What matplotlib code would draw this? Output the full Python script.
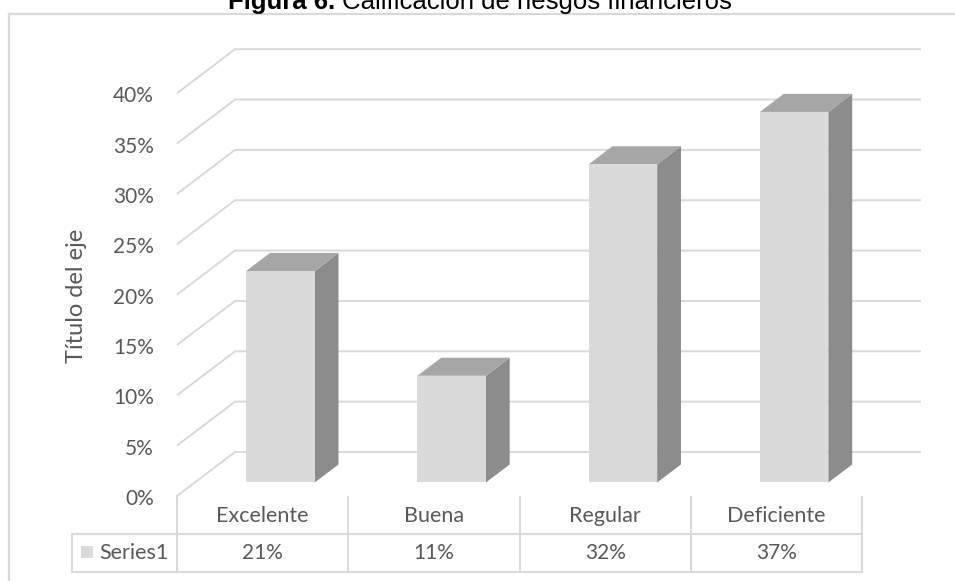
import matplotlib
matplotlib.use("Agg")
import matplotlib.pyplot as plt
from matplotlib.patches import Polygon, Rectangle

# ---------------- data ----------------
categories = ["Excelente", "Buena", "Regular", "Deficiente"]
values = [21.0, 10.6, 31.6, 36.8]          # percent
series_name = "Series1"
y_ticks = [0, 5, 10, 15, 20, 25, 30, 35, 40]
title_bold = "Figura 6."
title_rest = " Calificación de riesgos financieros"
axis_title = "Título del eje"

# ---------------- style ----------------
W, H = 955, 581
DPI = 100
GRID = "#D9D9D9"
TXT = "#595959"
FRONT = "#DADADA"
TOP = "#A6A6A6"
SIDE = "#8C8C8C"
FONT = ["Lato", "DejaVu Sans"]

fig = plt.figure(figsize=(W / DPI, H / DPI), dpi=DPI)
ax = fig.add_axes([0, 0, 1, 1])
ax.axis("off")

# pixel layout of the projected plot (front-left floor corner)
OX, OY = 177.0, 496.0
PX_CAT = 171.25          # px per category
PX_PCT = 10.07           # px per percent


def px2x(px):
    return -0.5 + (px - OX) / PX_CAT


def py2y(py):
    return (OY - py) / PX_PCT


ax.set_xlim(px2x(0), px2x(W))
ax.set_ylim(py2y(H), py2y(0))

# depth projection (oblique)
DX = 58 / PX_CAT
DY = 44 / PX_PCT
x_back_right = px2x(921)

# ---------------- walls / gridlines ----------------
for v in y_ticks:
    ax.plot([-0.5, -0.5 + DX, x_back_right], [v, v + DY, v + DY],
            color=GRID, lw=1.4, solid_capstyle="butt", zorder=1)
    ax.text(px2x(154), v - 0.3, f"{v}%", ha="right", va="center",
            fontsize=15, color=TXT, family=FONT)

# ---------------- 3D bars ----------------
d0, dd = 0.307, 0.41
bw = 0.40
for i, v in enumerate(values):
    xc = i + d0 * DX
    xl, xr = xc - bw / 2, xc + bw / 2
    y0 = d0 * DY
    y1 = y0 + v
    ox, oy = dd * DX, dd * DY
    ax.add_patch(Polygon([(xr, y0), (xr + ox, y0 + oy), (xr + ox, y1 + oy), (xr, y1)],
                         closed=True, facecolor=SIDE, edgecolor="none", zorder=3))
    ax.add_patch(Polygon([(xl, y1), (xl + ox, y1 + oy), (xr + ox, y1 + oy), (xr, y1)],
                         closed=True, facecolor=TOP, edgecolor="none", zorder=3))
    ax.add_patch(Rectangle((xl, y0), bw, v, facecolor=FRONT, edgecolor="none", zorder=4))

# ---------------- data table ----------------
n = len(categories)
y_row1 = py2y(534)
y_row2 = py2y(572)
x_tab_left = px2x(72)
for k in range(n + 1):
    ax.plot([-0.5 + k, -0.5 + k], [y_row2, 0 if k == 0 else py2y(497)],
            color=GRID, lw=1.4, zorder=1)
for yy in (y_row1, y_row2):
    ax.plot([x_tab_left, n - 0.5], [yy, yy], color=GRID, lw=1.4, zorder=1)
ax.plot([x_tab_left, x_tab_left], [y_row1, y_row2], color=GRID, lw=1.4, zorder=1)

for i, (c, v) in enumerate(zip(categories, values)):
    ax.text(i, py2y(516), c, ha="center", va="center", fontsize=15.5,
            color=TXT, family=FONT)
    ax.text(i, py2y(553), f"{v:.0f}%", ha="center", va="center", fontsize=15,
            color=TXT, family=FONT)

ax.add_patch(Rectangle((px2x(81), py2y(558)), 12 / PX_CAT, 12 / PX_PCT,
                       facecolor=FRONT, edgecolor="none"))
ax.text(px2x(99), py2y(553), series_name, ha="left", va="center", fontsize=15.5,
        color=TXT, family=FONT)

# axis title
ax.text(px2x(76), py2y(296), axis_title, rotation=90, ha="center", va="center",
        fontsize=17, color=TXT, family=FONT)

# ---------------- outer frame ----------------
ax.plot([px2x(9), px2x(9)], [py2y(14), py2y(H)], color=GRID, lw=1.6, zorder=1)
ax.plot([px2x(9), px2x(W)], [py2y(14), py2y(14)], color=GRID, lw=1.6, zorder=1)

# ---------------- title (partially clipped at top, as in the reference) ----------------
renderer = fig.canvas.get_renderer()
TSIZE = 18.5
t1 = fig.text(228 / W, 1 - 9 / H, title_bold, ha="left", va="baseline",
              fontsize=TSIZE, fontweight="bold", family="Liberation Sans", color="black")
w1 = t1.get_window_extent(renderer).width
fig.text((228 + w1) / W, 1 - 9 / H, title_rest, ha="left", va="baseline",
         fontsize=TSIZE, family="Liberation Sans", color="black")

fig.savefig("out.png", dpi=DPI, facecolor="white")
